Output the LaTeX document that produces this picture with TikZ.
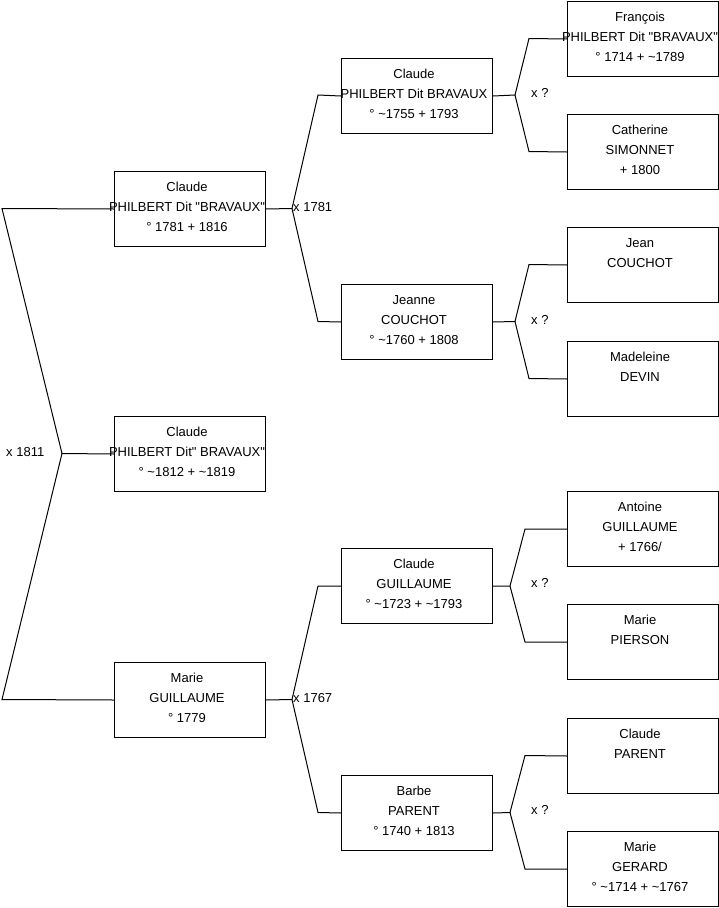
\documentclass[tikz,border=0pt]{standalone}
\usepackage{fontspec}
\setmainfont{Liberation Sans}
\newcommand\pl[1]{\makebox[151pt]{#1\hspace*{6pt}}}
\newcommand\pplines[3]{\parbox[t][75pt][t]{151pt}{\fontsize{13}{20}\selectfont\centering
\rule{0pt}{19.5pt}\pl{#1}\\\pl{#2}\\\pl{#3}}}
\newcommand\tl{\textasciitilde}
\newcommand\qd{\textquotedbl}
\tikzset{
  person/.style={draw=black, line width=1pt, inner sep=0pt, minimum width=151pt, minimum height=75pt, anchor=north west},
  link/.style={draw=black, line width=1pt},
  mlabel/.style={inner sep=0pt, anchor=west, font=\fontsize{13}{15}\selectfont}
}
\begin{document}
\begin{tikzpicture}[x=1pt,y=-1pt]
\useasboundingbox[fill=white] (0,0) rectangle (719,908);
% column 1
\node[person] (A) at (114,171) {\pplines{Claude}{PHILBERT Dit \qd BRAVAUX\qd}{° 1781 + 1816}};
\node[person] (B) at (114,416) {\pplines{Claude}{PHILBERT Dit\qd\ BRAVAUX\qd}{° \tl1812 + \tl1819}};
\node[person] (C) at (114,662) {\pplines{Marie}{GUILLAUME}{° 1779}};
% column 2
\node[person] (D) at (341,58) {\pplines{Claude}{PHILBERT Dit BRAVAUX}{° \tl1755 + 1793}};
\node[person] (E) at (341,284) {\pplines{Jeanne}{COUCHOT}{° \tl1760 + 1808}};
\node[person] (F) at (341,548) {\pplines{Claude}{GUILLAUME}{° \tl1723 + \tl1793}};
\node[person] (G) at (341,775) {\pplines{Barbe}{PARENT}{° 1740 + 1813}};
% column 3
\node[person] (P1) at (567,1) {\pplines{François}{PHILBERT Dit \qd BRAVAUX\qd}{° 1714 + \tl1789}};
\node[person] (P2) at (567,114) {\pplines{Catherine}{SIMONNET}{+ 1800}};
\node[person] (P3) at (567,227) {\pplines{Jean}{COUCHOT}{}};
\node[person] (P4) at (567,341) {\pplines{Madeleine}{DEVIN}{}};
\node[person] (P5) at (567,491) {\pplines{Antoine}{GUILLAUME}{+ 1766/}};
\node[person] (P6) at (567,604) {\pplines{Marie}{PIERSON}{}};
\node[person] (P7) at (567,718) {\pplines{Claude}{PARENT}{}};
\node[person] (P8) at (567,831) {\pplines{Marie}{GERARD}{° \tl1714 + \tl1767}};
% fork coordinates
\coordinate (kA) at (2,208.5);
\coordinate (mL) at (62,453.5);
\coordinate (kC) at (2,699.5);
\coordinate (fA) at (292,208.5);
\coordinate (uA) at (318,95);
\coordinate (dA) at (318,321.5);
\coordinate (fC) at (292,699.5);
\coordinate (uC) at (318,586);
\coordinate (dC) at (318,812.5);
\coordinate (fD) at (515,95);
\coordinate (uD) at (529,38.5);
\coordinate (dD) at (529,151.5);
\coordinate (fE) at (515,321.5);
\coordinate (uE) at (529,264.5);
\coordinate (dE) at (529,378.5);
\coordinate (fF) at (510,586);
\coordinate (uF) at (525,529);
\coordinate (dF) at (525,642);
\coordinate (fG) at (510,812.5);
\coordinate (uG) at (525,755.5);
\coordinate (dG) at (525,869);
% connectors
\draw[link] (A.west) -- (kA) -- (mL) -- (B.west);
\draw[link] (mL) -- (kC) -- (C.west);
\draw[link] (A.east) -- (fA) -- (uA) -- (D.west);
\draw[link] (fA) -- (dA) -- (E.west);
\draw[link] (C.east) -- (fC) -- (uC) -- (F.west);
\draw[link] (fC) -- (dC) -- (G.west);
\draw[link] (D.east) -- (fD) -- (uD) -- (P1.west);
\draw[link] (fD) -- (dD) -- (P2.west);
\draw[link] (E.east) -- (fE) -- (uE) -- (P3.west);
\draw[link] (fE) -- (dE) -- (P4.west);
\draw[link] (F.east) -- (fF) -- (uF) -- (P5.west);
\draw[link] (fF) -- (dF) -- (P6.west);
\draw[link] (G.east) -- (fG) -- (uG) -- (P7.west);
\draw[link] (fG) -- (dG) -- (P8.west);
% marriage labels
\node[mlabel] (xL) at (6,452) {x 1811};
\node[mlabel] (xA) at (293,207) {x 1781};
\node[mlabel] (xC) at (293,698) {x 1767};
\node[mlabel] (xD) at (531,93) {x ?};
\node[mlabel] (xE) at (531,320) {x ?};
\node[mlabel] (xF) at (531,583) {x ?};
\node[mlabel] (xG) at (531,810) {x ?};
\end{tikzpicture}
\end{document}
